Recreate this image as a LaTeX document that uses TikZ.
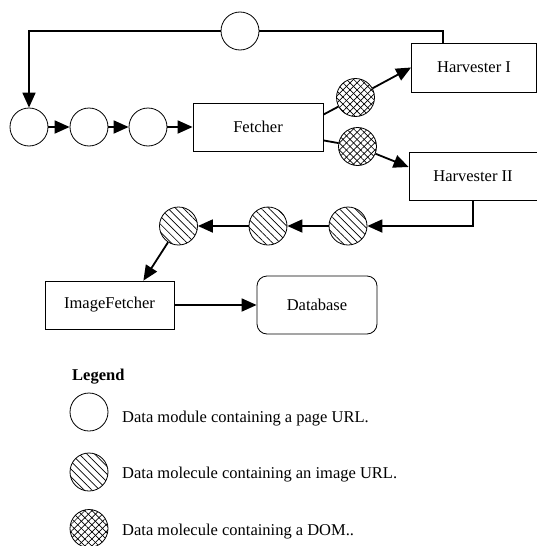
\documentclass[tikz,border=0pt]{standalone}
\usepackage{fontspec}
\setmainfont{Liberation Serif}
\usetikzlibrary{arrows.meta,patterns.meta}
\begin{document}
\begin{tikzpicture}[x=1pt,y=-1pt,
  font=\fontsize{16.5}{19}\selectfont,
  box/.style={draw, line width=0.8pt, minimum width=130pt, minimum height=48pt, inner sep=0pt},
  datum/.style={circle, draw, line width=0.8pt, minimum size=38pt, inner sep=0pt, fill=white},
  imgurl/.style={circle, draw, line width=0.8pt, minimum size=38pt, inner sep=0pt,
    preaction={fill=white},
    pattern={Lines[angle=-45,distance=5.5pt,line width=0.7pt]}},
  dom/.style={circle, draw, line width=0.8pt, minimum size=38pt, inner sep=0pt,
    preaction={fill=white},
    pattern={Lines[angle=45,distance=5pt,line width=0.7pt]},
    postaction={pattern={Lines[angle=-45,distance=5pt,line width=0.7pt]}}},
  conn/.style={line width=1.8pt, -{Triangle[length=15pt,width=13pt]}},
  link/.style={line width=1.8pt},
  legtext/.style={anchor=base west, inner sep=0pt}]
\useasboundingbox (0,0) rectangle (537,546);

% page URL loop and fetch chain
\node[datum] (top) at (240,31) {};
\node[datum] (c1) at (29,127) {};
\node[datum] (c2) at (89,127) {};
\node[datum] (c3) at (148,127) {};
\node[box] (fetcher) at (258,127) {Fetcher};

% DOM molecules and harvesters
\node[dom] (d1) at (355.5,97.5) {};
\node[dom] (d2) at (357.5,146.5) {};
\node[box, minimum width=125pt, minimum height=49pt] (h1) at (474,67.5) {Harvester I};
\node[box, minimum width=128pt] (h2) at (473,176) {Harvester II};

% image URL molecules
\node[imgurl] (i1) at (348,226) {};
\node[imgurl] (i2) at (268,226) {};
\node[imgurl] (i3) at (178.5,226) {};

\node[box, minimum width=129pt] (imgf) at (109.5,305) {ImageFetcher};
\node[box, minimum width=120pt, minimum height=58pt, rounded corners=10pt] (db) at (317,305) {Database};

% connectors
\coordinate (loopstart) at ([xshift=-31pt]h1.north);
\draw[link] (loopstart) |- (top.east);
\draw[conn] (top.west) -| (c1.north);
\draw[conn] (c1) -- (c2);
\draw[conn] (c2) -- (c3);
\draw[conn] (c3) -- (fetcher);
\draw[link] ([yshift=-12pt]fetcher.north east) -- (d1);
\draw[conn] (d1) -- (h1.west);
\draw[link] ([yshift=11pt]fetcher.south east) -- (d2);
\draw[conn] (d2) -- ([yshift=9pt]h2.west);
\draw[conn] (h2.south) |- (i1);
\draw[conn] (i1) -- (i2);
\draw[conn] (i2) -- (i3);
\draw[conn] (i3) -- ([xshift=-31pt]imgf.north east);
\draw[conn] (imgf) -- (db);

% legend
\node[legtext, font=\fontsize{16.5}{19}\selectfont\bfseries] (legend) at (72,380) {Legend};
\node[datum] (k1) at (89,412) {};
\node[imgurl] (k2) at (89,472) {};
\node[dom] (k3) at (89,528.5) {};
\node[legtext] (t1) at (122,422) {Data module containing a page URL.};
\node[legtext] (t2) at (122,478) {Data molecule containing an image URL.};
\node[legtext] (t3) at (122,535) {Data molecule containing a DOM..};
\end{tikzpicture}
\end{document}
